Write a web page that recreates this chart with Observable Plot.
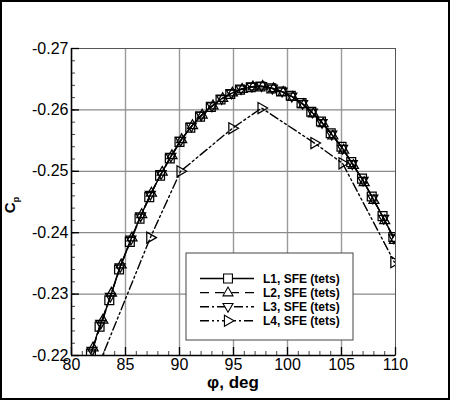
<!DOCTYPE html>
<html>
<head>
<meta charset="utf-8">
<script src="https://cdn.jsdelivr.net/npm/d3@7"></script>
<script src="https://cdn.jsdelivr.net/npm/@observablehq/plot@0.6"></script>
<style>
  body { margin: 0; background: #fff; }
  #chart svg { display: block; outline: 2px solid #000; outline-offset: -2px; }
</style>
</head>
<body>
<div id="chart"></div>
<script>
// valores
const phi1 = [81.8, 82.6, 83.5, 84.4, 85.4, 86.3, 87.2, 88.2, 89.1, 90.0, 91.0, 91.9, 92.9, 93.8, 94.7, 95.6, 96.6, 97.5, 98.5, 99.4, 100.3, 101.3, 102.2, 103.1, 104.0, 105.0, 105.9, 106.9, 107.8, 108.8, 109.8]
const cp1 = [-0.2203, -0.2247, -0.2290, -0.2340, -0.2385, -0.2423, -0.2458, -0.2493, -0.2521, -0.2548, -0.2571, -0.2589, -0.2605, -0.2617, -0.2626, -0.2633, -0.2637, -0.2638, -0.2635, -0.2630, -0.2623, -0.2611, -0.2597, -0.2581, -0.2562, -0.2540, -0.2515, -0.2488, -0.2459, -0.2427, -0.2393]

const phi2 = [82.0, 82.9, 83.7, 84.6, 85.6, 86.5, 87.4, 88.4, 89.3, 90.2, 91.2, 92.1, 93.1, 94.0, 94.9, 95.8, 96.8, 97.7, 98.7, 99.6, 100.5, 101.5, 102.4, 103.3, 104.2, 105.2, 106.1, 107.1, 108.0, 109.0, 109.9]
const cp2 = [-0.2213, -0.2258, -0.2302, -0.2348, -0.2392, -0.2430, -0.2465, -0.2499, -0.2526, -0.2552, -0.2575, -0.2592, -0.2607, -0.2619, -0.2628, -0.2634, -0.2638, -0.2639, -0.2635, -0.2629, -0.2621, -0.2609, -0.2594, -0.2578, -0.2558, -0.2535, -0.2510, -0.2482, -0.2453, -0.2420, -0.2388]

const phi3 = [81.9, 82.7, 83.6, 84.5, 85.5, 86.4, 87.3, 88.3, 89.2, 90.1, 91.1, 92.0, 93.0, 93.9, 94.8, 95.7, 96.7, 97.6, 98.6, 99.5, 100.4, 101.4, 102.3, 103.2, 104.1, 105.1, 106.0, 107.0, 107.9, 108.9, 109.85]
const cp3 = [-0.2208, -0.2252, -0.2296, -0.2344, -0.2389, -0.2427, -0.2462, -0.2496, -0.2524, -0.2550, -0.2573, -0.2591, -0.2606, -0.2618, -0.2627, -0.2634, -0.2638, -0.2639, -0.2635, -0.2630, -0.2622, -0.2610, -0.2596, -0.2579, -0.2560, -0.2537, -0.2512, -0.2485, -0.2456, -0.2423, -0.2391]

const phi4 = [82.3, 87.3, 90.1, 94.9, 97.6, 102.5, 105.1, 109.9]
const cp4 = [-0.2175, -0.2392, -0.2500, -0.2570, -0.2603, -0.2546, -0.2513, -0.2352]

const nombres = ['L1, SFE (tets)', 'L2, SFE (tets)', 'L3, SFE (tets)', 'L4, SFE (tets)']

const xTicks = [80, 85, 90, 95, 100, 105, 110]
const yTicks = [-0.22, -0.23, -0.24, -0.25, -0.26, -0.27]
const xMinor = d3.range(80, 110.01, 1)
const yMinor = d3.range(-0.22, -0.2701, -0.002)

// simbolos: triangulo arriba / abajo / derecha
const triUp = { draw(ctx, size) { const r = Math.sqrt(size / Math.PI); ctx.moveTo(0, -r * 1.1); ctx.lineTo(r, r * 0.65); ctx.lineTo(-r, r * 0.65); ctx.closePath() } }
const triDown = { draw(ctx, size) { const r = Math.sqrt(size / Math.PI); ctx.moveTo(0, r * 1.1); ctx.lineTo(r, -r * 0.65); ctx.lineTo(-r, -r * 0.65); ctx.closePath() } }
const triRight = { draw(ctx, size) { const r = Math.sqrt(size / Math.PI); ctx.moveTo(r * 1.1, 0); ctx.lineTo(-r * 0.65, r); ctx.lineTo(-r * 0.65, -r); ctx.closePath() } }

const series = [
  { phi: phi1, cp: cp1, dash: null, symbol: d3.symbolSquare, r: 5 },
  { phi: phi2, cp: cp2, dash: '9,6', symbol: triUp, r: 5 },
  { phi: phi3, cp: cp3, dash: '9,3,2,3', symbol: triDown, r: 5 },
  { phi: phi4, cp: cp4, dash: '9,3,2,3,2,3', symbol: triRight, r: 5.5 },
]

const W = 450, H = 400
const mL = 71, mR = 55, mT = 48, mB = 45
const innerW = W - mL - mR, innerH = H - mT - mB

const curvas = series.flatMap(s => {
  const datos = s.phi.map((p, i) => ({ phi: p, cp: s.cp[i] }))
  return [
    Plot.line(datos, { x: 'phi', y: 'cp', stroke: 'black', strokeWidth: 1.4, strokeDasharray: s.dash, clip: true }),
    Plot.dot(datos, { x: 'phi', y: 'cp', stroke: 'black', strokeWidth: 1.25, fill: 'none', symbol: () => s.symbol, r: s.r, clip: true }),
  ]
})

const chart = Plot.plot({
  width: W,
  height: H,
  marginLeft: mL,
  marginRight: mR,
  marginTop: mT,
  marginBottom: mB,
  style: { fontFamily: '"Liberation Sans", Arial, sans-serif', fontSize: '16px', color: 'black', background: 'white' },
  x: { domain: [80, 110], ticks: xTicks, tickSize: 0, tickPadding: 3, tickFormat: d => d, label: null },
  y: { domain: [-0.22, -0.27], ticks: yTicks, tickSize: 0, tickPadding: 3, tickFormat: d => d.toFixed(2), label: null },
  symbol: { type: 'identity' },
  marks: [
    Plot.ruleX(xTicks.slice(1, -1), { stroke: '#9a9a9a', strokeWidth: 1.4 }),
    Plot.ruleY(yTicks.slice(1, -1), { stroke: '#8a8a8a', strokeWidth: 1.2 }),
    Plot.frame({ stroke: '#555' }),
    Plot.tickY(yMinor, { y: d => d, stroke: '#444', insetRight: innerW - 4 }),
    Plot.tickY(yTicks, { y: d => d, stroke: '#000', strokeWidth: 1.3, insetRight: innerW - 8 }),
    Plot.tickX(xMinor, { x: d => d, stroke: '#444', insetTop: innerH - 4 }),
    Plot.tickX(xTicks, { x: d => d, stroke: '#000', strokeWidth: 1.3, insetTop: innerH - 8 }),
    ...curvas,
    Plot.ruleX([80], { stroke: 'black', strokeWidth: 1.6 }),
    Plot.ruleY([-0.22], { stroke: 'black', strokeWidth: 1.6 }),
  ],
})

const svg = d3.select(chart)

// titulos de ejes
svg.append('text')
  .attr('x', mL + innerW / 2).attr('y', 388)
  .attr('text-anchor', 'middle')
  .style('font', 'bold 17px "Liberation Sans", Arial, sans-serif')
  .text('φ, deg')

const yl = svg.append('text')
  .attr('transform', 'translate(15,205) rotate(-90)')
  .attr('text-anchor', 'middle')
  .style('font', 'bold 15px "Liberation Sans", Arial, sans-serif')
yl.append('tspan').text('C')
yl.append('tspan').attr('dy', 4).style('font-size', '9px').text('p')

// leyenda dentro del grafico
const ley = svg.append('g')
ley.append('rect')
  .attr('x', 186).attr('y', 253).attr('width', 167).attr('height', 87)
  .attr('fill', 'white').attr('stroke', '#444').attr('stroke-width', 1)

series.forEach((s, i) => {
  const yy = 278.5 + i * 14.1
  ley.append('line')
    .attr('x1', 200).attr('x2', 254).attr('y1', yy).attr('y2', yy)
    .attr('stroke', 'black').attr('stroke-width', 1.4)
    .attr('stroke-dasharray', s.dash)
  ley.append('path')
    .attr('transform', `translate(228,${yy})`)
    .attr('d', d3.symbol().type(s.symbol).size(Math.PI * s.r * s.r)())
    .attr('fill', 'white').attr('stroke', 'black').attr('stroke-width', 1.1)
  ley.append('text')
    .attr('x', 263).attr('y', yy).attr('dy', '0.35em')
    .attr('text-anchor', 'start')
    .style('font', 'bold 12px "Liberation Sans", Arial, sans-serif')
    .text(nombres[i])
})

d3.select('#chart').append(() => chart)
</script>
</body>
</html>
